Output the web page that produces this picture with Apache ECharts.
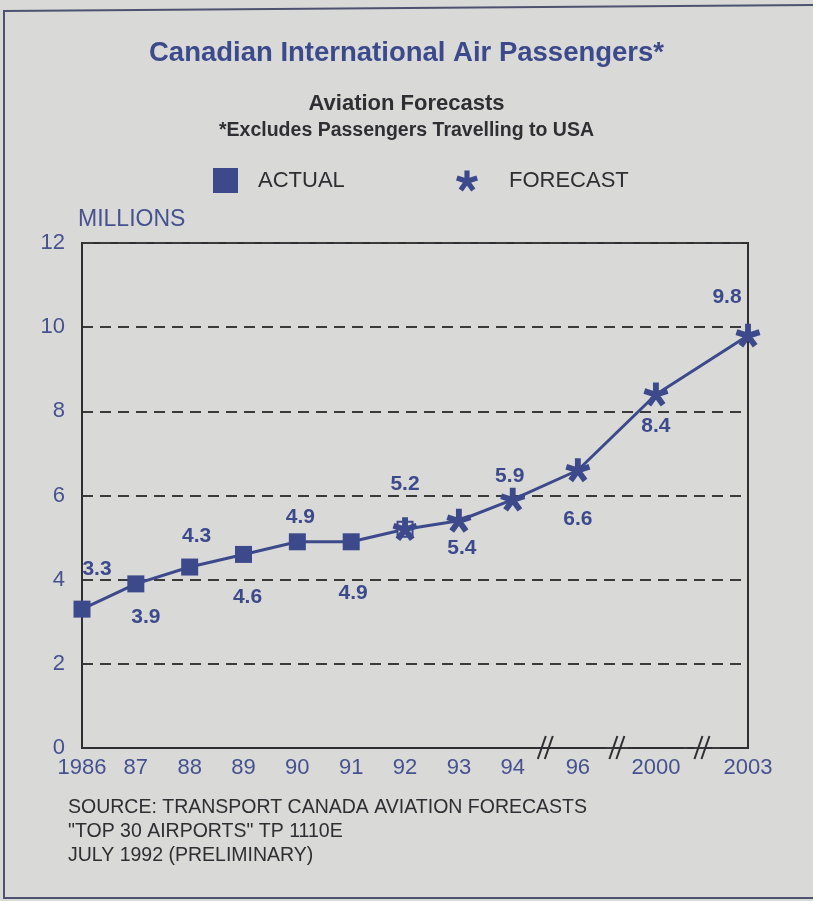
<!DOCTYPE html>
<html><head><meta charset="utf-8">
<script src="https://cdn.jsdelivr.net/npm/echarts@6/dist/echarts.min.js"></script>
<style>html,body{margin:0;padding:0;background:#d9d9d7}#c{width:813px;height:901px}</style>
</head><body><div id="c"></div>
<script>
// ---- data ----
const years = [1986, 1987, 1988, 1989, 1990, 1991, 1992, 1993, 1994, 1996, 2000, 2003];
const tickLabels = ['1986', '87', '88', '89', '90', '91', '92', '93', '94', '96', '2000', '2003'];
const actualYears = [1986, 1987, 1988, 1989, 1990, 1991, 1992];
const actualValues = [3.3, 3.9, 4.3, 4.6, 4.9, 4.9, 5.2];
const forecastYears = [1992, 1993, 1994, 1996, 2000, 2003];
const forecastValues = [5.2, 5.4, 5.9, 6.6, 8.4, 9.8];
const titleText = 'Canadian International Air Passengers*';
const subTitle1 = 'Aviation Forecasts';
const subTitle2 = '*Excludes Passengers Travelling to USA';
const sourceLines = ['SOURCE: TRANSPORT CANADA AVIATION FORECASTS', '"TOP 30 AIRPORTS" TP 1110E', 'JULY 1992 (PRELIMINARY)'];

// ---- layout / style ----
const axisBreaks = [
  { start: 1994.5, end: 1995.5, gap: 0.21 },
  { start: 1996.5, end: 1999.5, gap: 0.45 },
  { start: 2000.5, end: 2002.5, gap: 0.71 }
];
// label offsets (dx, dy) from each point, in years order
const labelOffsets = [[15, -40], [10, 33], [7, -31], [4, 43], [3, -25], [2, 51], [0, -45], [3, 27], [-3, -24], [0, 49], [0, 32], [-21, -38]];
const blue = '#3c4a8c';
const textBlue = '#46528f';
const dark = '#2e2e33';
const font = '"Liberation Sans", Arial, Helvetica, sans-serif';

function starPath(L, w) {
  let d = '';
  for (let k = 0; k < 5; k++) {
    const a = (-90 + 72 * k) * Math.PI / 180;
    const dx = Math.cos(a), dy = Math.sin(a), nx = -dy, ny = dx;
    const p = [[nx * w, ny * w], [dx * L + nx * w, dy * L + ny * w], [dx * L - nx * w, dy * L - ny * w], [-nx * w, -ny * w]];
    d += 'M' + p.map(q => q[0].toFixed(2) + ' ' + q[1].toFixed(2)).join(' L') + ' Z ';
  }
  return 'path://' + d;
}
const STAR = starPath(10, 2.4);

const labelMap = {};
years.forEach((y, i) => { labelMap[y] = tickLabels[i]; });

const labelBase = {
  show: true, position: 'inside', color: blue, fontFamily: font, fontWeight: 'bold', fontSize: 21,
  formatter: p => p.value[1].toFixed(1)
};

const actualData = actualYears.map((y, i) => {
  const item = { value: [y, actualValues[i]] };
  const idx = years.indexOf(y);
  if (y === 1992) {
    item.label = { show: false };
    item.itemStyle = { color: '#d9d9d7', borderColor: blue, borderWidth: 2 };
    item.symbolSize = 15;
  } else {
    item.label = Object.assign({}, labelBase, { offset: labelOffsets[idx] });
  }
  return item;
});
const forecastData = forecastYears.map((y, i) => {
  const idx = years.indexOf(y);
  return { value: [y, forecastValues[i]], label: Object.assign({}, labelBase, { offset: labelOffsets[idx] }) };
});

const chart = echarts.init(document.getElementById('c'), null, { renderer: 'canvas' });
const option = {
  backgroundColor: '#d9d9d7',
  animation: false,
  title: [
    { text: titleText, left: 'center', top: 34, textStyle: { color: blue, fontFamily: font, fontWeight: 'bold', fontSize: 27.5 } },
    { text: subTitle1, left: 'center', top: 88, textStyle: { color: dark, fontFamily: font, fontWeight: 'bold', fontSize: 22 } },
    { text: subTitle2, left: 'center', top: 116, textStyle: { color: dark, fontFamily: font, fontWeight: 'bold', fontSize: 19.5 } },
    { text: sourceLines.join('\n'), left: 63, top: 791, textStyle: { color: dark, fontFamily: font, fontWeight: 'normal', fontSize: 19.5, lineHeight: 24 } }
  ],
  legend: [
    { data: [{ name: 'ACTUAL', icon: 'rect' }], left: 208, top: 163, itemWidth: 25, itemHeight: 25, selectedMode: false,
      textStyle: { color: dark, fontFamily: font, fontSize: 22, padding: [2, 0, 0, 15] } },
    { data: [{ name: 'FORECAST', icon: STAR }], left: 451, top: 165, itemWidth: 22, itemHeight: 21, selectedMode: false,
      textStyle: { color: dark, fontFamily: font, fontSize: 22, padding: [0, 0, 0, 26] } }
  ],
  grid: { left: 82, right: 65, top: 243, bottom: 153, show: true, borderColor: dark, borderWidth: 2, backgroundColor: 'transparent' },
  xAxis: {
    type: 'value', min: 1986, max: 2003,
    breaks: axisBreaks,
    breakArea: { show: false },
    axisLine: { show: true, lineStyle: { color: dark, width: 2 } },
    axisTick: { show: false },
    splitLine: { show: false },
    axisLabel: {
      color: textBlue, fontFamily: font, fontSize: 22, margin: 9, showMinLabel: true, showMaxLabel: true,
      customValues: years,
      formatter: v => (labelMap[v] !== undefined ? labelMap[v] : '')
    }
  },
  yAxis: {
    type: 'value', min: 0, max: 12, interval: 2,
    name: 'MILLIONS', nameLocation: 'end', nameGap: 12,
    nameTextStyle: { color: textBlue, fontFamily: font, fontSize: 23, align: 'left', padding: [0, 0, 0, -4] },
    axisLine: { show: true, lineStyle: { color: dark, width: 2 } },
    axisTick: { show: false },
    splitLine: { show: true, lineStyle: { color: '#3a3a3a', width: 2, type: [11, 7] } },
    axisLabel: { color: textBlue, fontFamily: font, fontSize: 22, margin: 17 }
  },
  series: [
    { name: 'ACTUAL', type: 'line', data: actualData, symbol: 'rect', symbolSize: 17, z: 3,
      itemStyle: { color: blue }, lineStyle: { color: blue, width: 3 } },
    { name: 'FORECAST', type: 'line', data: forecastData, symbol: STAR, symbolSize: 25, symbolKeepAspect: true, z: 4,
      itemStyle: { color: blue }, lineStyle: { color: blue, width: 3 } }
  ]
};
chart.setOption(option);

// decorative axis-break marks and page frame
const marks = [];
axisBreaks.forEach(b => {
  const p = chart.convertToPixel({ gridIndex: 0 }, [(b.start + b.end) / 2, 0]);
  [-3.5, 3.5].forEach(k => {
    marks.push({ type: 'line', shape: { x1: p[0] + k - 4, y1: p[1] + 11, x2: p[0] + k + 4, y2: p[1] - 12 },
      style: { stroke: dark, lineWidth: 2 }, z: 10 });
  });
});
marks.push({ type: 'line', shape: { x1: 3, y1: 11, x2: 813, y2: 5 }, style: { stroke: '#4c5270', lineWidth: 2 } });
marks.push({ type: 'line', shape: { x1: 4, y1: 10, x2: 4, y2: 899 }, style: { stroke: '#4c5270', lineWidth: 2 } });
marks.push({ type: 'line', shape: { x1: 4, y1: 898, x2: 813, y2: 898 }, style: { stroke: '#4c5270', lineWidth: 2 } });
chart.setOption({ graphic: marks });
</script></body></html>
